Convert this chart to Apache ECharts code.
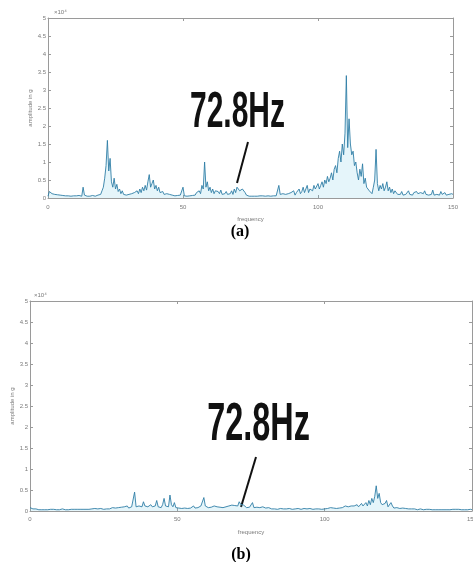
<!DOCTYPE html>
<html>
<head>
<meta charset="utf-8">
<script src="https://cdn.jsdelivr.net/npm/echarts@6/dist/echarts.min.js"></script>
<style>
html,body{margin:0;padding:0;background:#fff;}
#chart{width:473px;height:562px;}
</style>
</head>
<body>
<div id="chart"></div>
<script>
// Frequency grid: 0 to 150 Hz, 0.5 Hz spacing (301 samples)
const freqStep = 0.5;
const xTicks = [0, 50, 100, 150];
const yTicks = [0, 0.5, 1, 1.5, 2, 2.5, 3, 3.5, 4, 4.5, 5];

// Panel (a) amplitude (x10^4), one row per 10 Hz
const ampA = [
  0.05,0.18,0.14,0.12,0.13,0.10,0.11,0.09,0.10,0.08, 0.09,0.07,0.08,0.06,0.07,0.06,0.07,0.05,0.06,0.06,
  0.05,0.06,0.05,0.07,0.06,0.05,0.30,0.08,0.06,0.05, 0.06,0.05,0.05,0.07,0.06,0.05,0.06,0.08,0.07,0.10,
  0.20,0.30,0.55,0.90,1.60,0.75,1.10,0.45,0.30,0.55, 0.25,0.38,0.18,0.25,0.12,0.20,0.10,0.15,0.08,0.12,
  0.10,0.07,0.12,0.08,0.15,0.10,0.20,0.12,0.25,0.15, 0.30,0.20,0.35,0.22,0.45,0.65,0.30,0.40,0.50,0.25,
  0.35,0.20,0.30,0.15,0.12,0.18,0.10,0.08,0.12,0.07, 0.10,0.06,0.08,0.07,0.06,0.08,0.07,0.06,0.08,0.10,
  0.30,0.06,0.07,0.05,0.08,0.06,0.10,0.07,0.12,0.08, 0.15,0.10,0.20,0.12,0.35,0.25,1.00,0.30,0.45,0.20,
  0.30,0.15,0.25,0.12,0.20,0.15,0.18,0.12,0.22,0.10, 0.15,0.12,0.18,0.10,0.15,0.12,0.20,0.10,0.25,0.15,
  0.30,0.35,0.20,0.15,0.25,0.30,0.15,0.08,0.06,0.05, 0.06,0.05,0.07,0.05,0.06,0.05,0.07,0.06,0.05,0.06,
  0.06,0.05,0.07,0.06,0.08,0.05,0.07,0.06,0.09,0.06, 0.10,0.35,0.10,0.07,0.12,0.08,0.10,0.07,0.12,0.08,
  0.15,0.10,0.20,0.08,0.15,0.10,0.25,0.12,0.18,0.30, 0.15,0.20,0.35,0.15,0.25,0.30,0.20,0.35,0.25,0.30,
  0.40,0.25,0.35,0.45,0.30,0.50,0.40,0.60,0.45,0.55, 0.70,0.50,0.80,0.90,0.70,1.10,1.30,1.00,1.50,1.20,
  1.80,3.40,1.40,2.20,1.50,1.20,1.30,0.90,1.00,0.70, 0.50,0.80,0.60,0.95,0.40,0.55,0.30,0.35,0.20,0.15,
  0.12,0.30,0.50,1.35,0.40,0.20,0.35,0.25,0.40,0.20, 0.30,0.45,0.20,0.30,0.15,0.25,0.12,0.20,0.15,0.10,
  0.15,0.10,0.18,0.08,0.12,0.10,0.15,0.20,0.10,0.12, 0.08,0.15,0.10,0.18,0.12,0.08,0.15,0.10,0.12,0.20,
  0.10,0.15,0.08,0.12,0.10,0.22,0.08,0.12,0.10,0.15, 0.08,0.18,0.10,0.12,0.15,0.08,0.12,0.10,0.15,0.12,
  0.10
];

// Panel (b) amplitude (x10^4)
const ampB = [
  0.08,0.06,0.05,0.04,0.05,0.04,0.03,0.04,0.03,0.04, 0.03,0.04,0.03,0.03,0.04,0.03,0.04,0.03,0.03,0.04,
  0.03,0.04,0.05,0.04,0.03,0.04,0.03,0.05,0.04,0.03, 0.04,0.03,0.04,0.05,0.04,0.03,0.04,0.03,0.04,0.03,
  0.04,0.03,0.05,0.04,0.06,0.04,0.05,0.04,0.06,0.05, 0.04,0.06,0.05,0.07,0.05,0.06,0.08,0.05,0.07,0.06,
  0.08,0.06,0.09,0.07,0.10,0.08,0.12,0.07,0.09,0.10, 0.12,0.45,0.10,0.08,0.12,0.09,0.10,0.22,0.12,0.08,
  0.10,0.08,0.15,0.10,0.08,0.12,0.25,0.10,0.12,0.08, 0.15,0.30,0.12,0.15,0.10,0.38,0.15,0.10,0.20,0.08,
  0.10,0.07,0.08,0.06,0.09,0.07,0.08,0.06,0.10,0.07, 0.08,0.12,0.07,0.09,0.08,0.10,0.12,0.15,0.32,0.12,
  0.10,0.08,0.12,0.09,0.10,0.12,0.08,0.10,0.13,0.09, 0.11,0.08,0.12,0.10,0.09,0.12,0.10,0.14,0.11,0.13,
  0.15,0.12,0.22,0.16,0.12,0.14,0.10,0.08,0.12,0.09, 0.10,0.20,0.08,0.07,0.09,0.06,0.08,0.07,0.10,0.06,
  0.07,0.05,0.08,0.06,0.05,0.07,0.05,0.06,0.04,0.05, 0.06,0.04,0.05,0.07,0.05,0.04,0.06,0.05,0.04,0.05,
  0.05,0.04,0.06,0.05,0.04,0.05,0.06,0.04,0.05,0.04, 0.06,0.05,0.04,0.06,0.05,0.07,0.05,0.06,0.04,0.06,
  0.05,0.07,0.06,0.05,0.08,0.06,0.07,0.09,0.06,0.08, 0.07,0.10,0.08,0.09,0.12,0.08,0.10,0.09,0.12,0.10,
  0.12,0.09,0.15,0.10,0.13,0.18,0.12,0.15,0.20,0.12, 0.25,0.15,0.30,0.20,0.35,0.60,0.30,0.42,0.20,0.15,
  0.12,0.18,0.25,0.10,0.08,0.20,0.12,0.07,0.06,0.08, 0.05,0.06,0.05,0.07,0.05,0.06,0.04,0.05,0.04,0.05,
  0.04,0.05,0.04,0.03,0.04,0.05,0.04,0.03,0.04,0.04, 0.03,0.04,0.05,0.03,0.04,0.03,0.04,0.03,0.04,0.03,
  0.04,0.03,0.04,0.03,0.04,0.03,0.03,0.04,0.03,0.04, 0.03,0.04,0.03,0.03,0.04,0.03,0.04,0.03,0.03,0.04,
  0.03
];

const annotation = '72.8Hz';
const xName = 'frequency';
const yName = 'amplitude in g';
const expText = '×10⁴';

function pairs(arr){ return arr.map((v,i)=>[i*freqStep, v]); }

const axisColor = '#9a9a9a';
const labelStyle = {fontSize: 6, color: '#7a7a7a', fontFamily: 'Liberation Sans'};

function xAxes(gi, margin, nameGap){
  return [{
    type:'value', gridIndex: gi, min: xTicks[0], max: xTicks[xTicks.length-1], interval: 50,
    axisLine:{show:true, onZero:false, lineStyle:{color:axisColor, width:1}},
    axisTick:{show:true, inside:true, length:3, lineStyle:{color:axisColor}},
    axisLabel:Object.assign({margin: margin}, labelStyle),
    splitLine:{show:false},
    name: xName, nameLocation:'middle', nameGap: nameGap, nameMoveOverlap:false,
    nameTextStyle:{fontSize:6, color:'#7a7a7a'}
  },{
    type:'value', gridIndex: gi, position:'top', min: 0, max: 150, interval: 50,
    axisLine:{show:true, onZero:false, lineStyle:{color:axisColor, width:1}},
    axisTick:{show:true, inside:true, length:3, lineStyle:{color:axisColor}},
    axisLabel:{show:false}, splitLine:{show:false}
  }];
}
function yAxes(gi, nameGap){
  return [{
    type:'value', gridIndex: gi, min: yTicks[0], max: yTicks[yTicks.length-1], interval: 0.5,
    axisLine:{show:true, onZero:false, lineStyle:{color:axisColor, width:1}},
    axisTick:{show:true, inside:true, length:3, lineStyle:{color:axisColor}},
    axisLabel:Object.assign({margin: 2, formatter: v => String(v)}, labelStyle),
    splitLine:{show:false},
    name: yName, nameLocation:'middle', nameGap: nameGap, nameRotate: 90, nameMoveOverlap:false,
    nameTextStyle:{fontSize:6, color:'#7a7a7a'}
  },{
    type:'value', gridIndex: gi, position:'right', min: 0, max: 5, interval: 0.5,
    axisLine:{show:true, onZero:false, lineStyle:{color:axisColor, width:1}},
    axisTick:{show:true, inside:true, length:3, lineStyle:{color:axisColor}},
    axisLabel:{show:false}, splitLine:{show:false}
  }];
}

const lineColor = '#2f7ea6';
function seriesFor(arr, xi, yi){
  return {
    type:'line', xAxisIndex: xi, yAxisIndex: yi, data: pairs(arr),
    showSymbol:false, symbol:'none', animation:false,
    lineStyle:{color: lineColor, width: 0.9},
    areaStyle:{color:'rgba(110,200,225,0.25)'}
  };
}

const chart = echarts.init(document.getElementById('chart'), null, {renderer:'canvas'});
const bigFont = '"Liberation Sans", Arial, sans-serif';
chart.setOption({
  backgroundColor:'#fff',
  animation:false,
  grid:[
    {left:48, top:18, width:405, height:180, outerBoundsMode:'none', containLabel:false},
    {left:30, top:301, width:442, height:210, outerBoundsMode:'none', containLabel:false}
  ],
  xAxis:[...xAxes(0, 6, 18), ...xAxes(1, 5, 18)],
  yAxis:[...yAxes(0, 15), ...yAxes(1, 15)],
  series:[seriesFor(ampA, 0, 0), seriesFor(ampB, 2, 2)],
  graphic:[
    {type:'text', x:54, y:12, style:{text:expText, fontSize:6, fill:'#7a7a7a', textVerticalAlign:'middle'}},
    {type:'text', x:34, y:295, style:{text:expText, fontSize:6, fill:'#7a7a7a', textVerticalAlign:'middle'}},
    {type:'text', x:237.5, y:113, scaleX:0.6, style:{text:annotation, font:'bold 50px ' + bigFont, fill:'#111', textAlign:'center', textVerticalAlign:'middle'}},
    {type:'text', x:258.5, y:425.5, scaleX:0.6, style:{text:annotation, font:'bold 54px ' + bigFont, fill:'#111', textAlign:'center', textVerticalAlign:'middle'}},
    {type:'line', shape:{x1:248, y1:142, x2:237, y2:183}, style:{stroke:'#111', lineWidth:2}},
    {type:'line', shape:{x1:256, y1:457, x2:241, y2:507}, style:{stroke:'#111', lineWidth:2}},
    {type:'text', x:240, y:232, style:{text:'(a)', font:'bold 16px "Liberation Serif", serif', fill:'#000', textAlign:'center', textVerticalAlign:'middle'}},
    {type:'text', x:241, y:555, style:{text:'(b)', font:'bold 16px "Liberation Serif", serif', fill:'#000', textAlign:'center', textVerticalAlign:'middle'}}
  ]
});
</script>
</body>
</html>
